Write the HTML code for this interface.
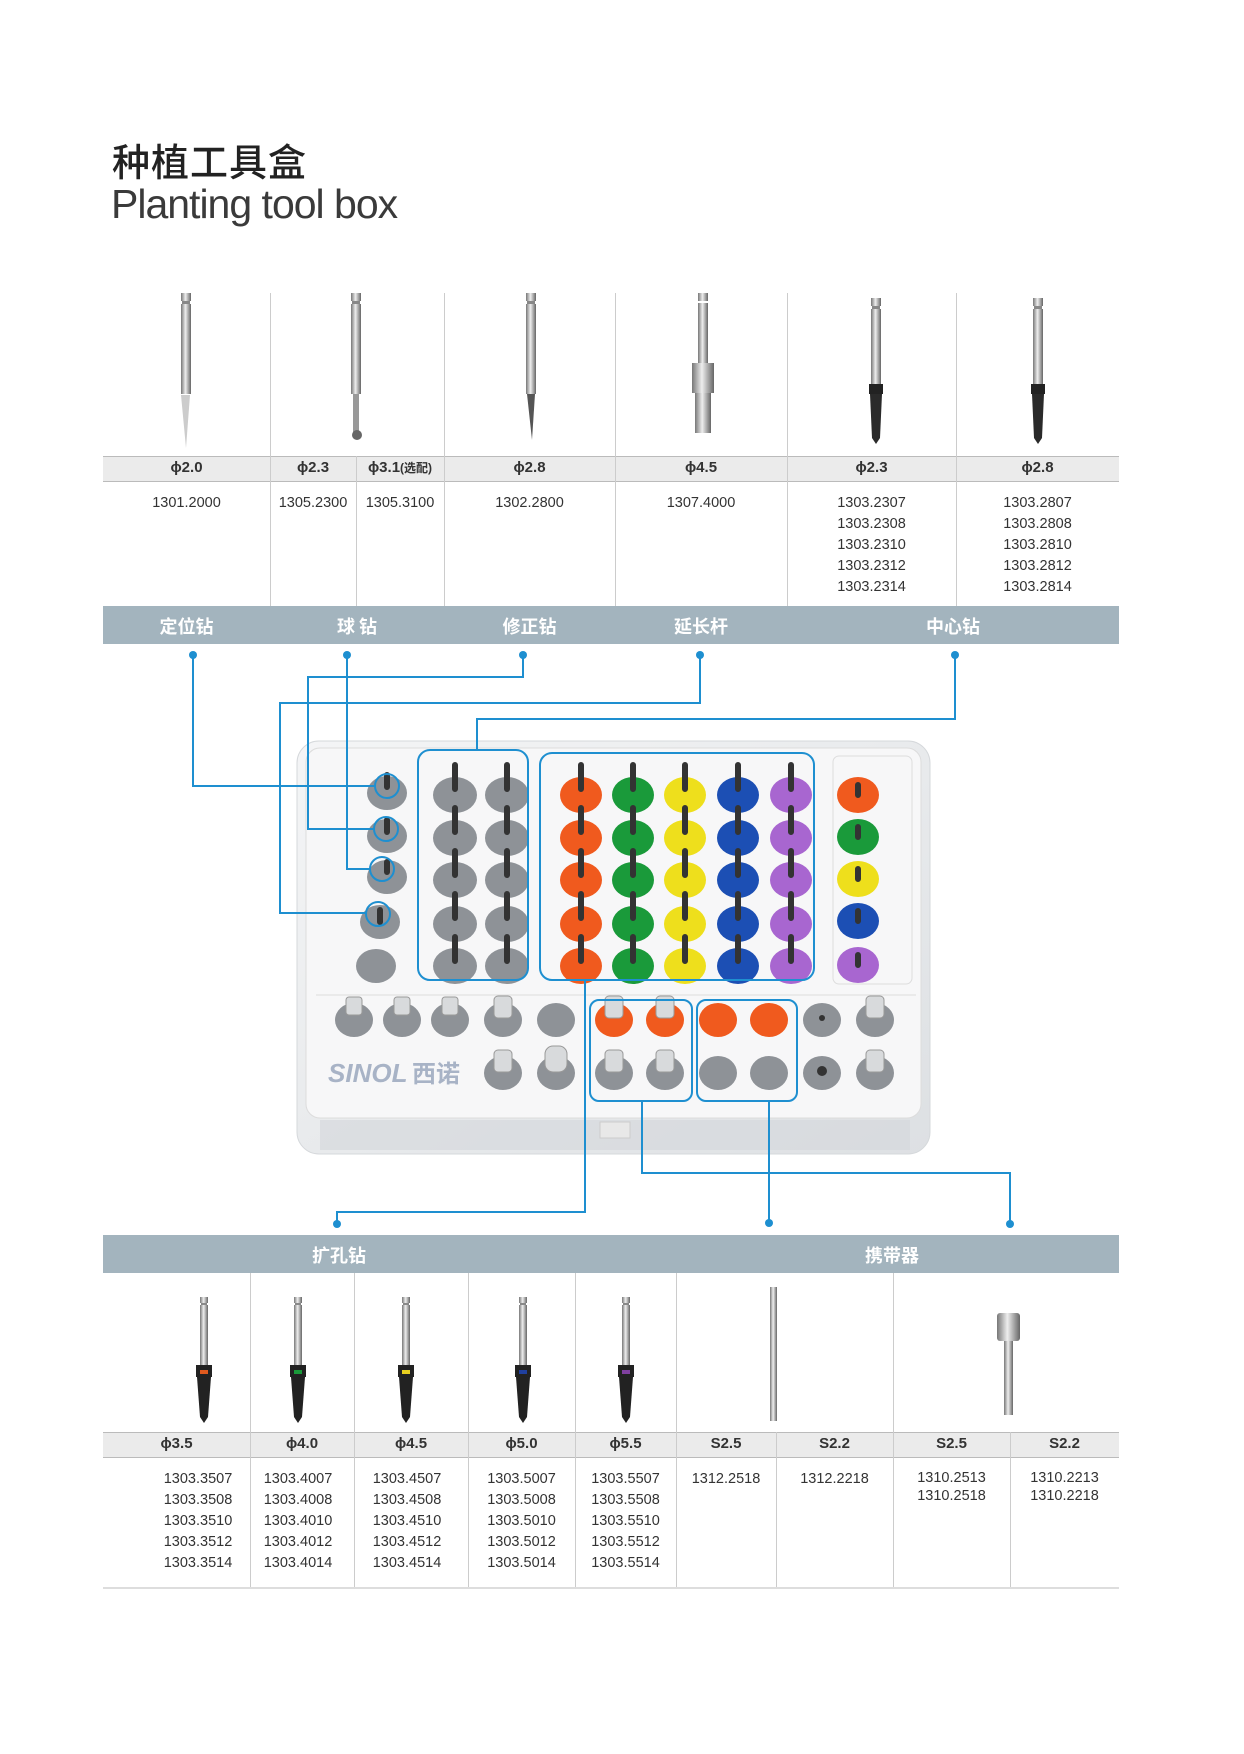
<!DOCTYPE html>
<html><head><meta charset="utf-8">
<style>
body{margin:0;background:#fff;}
#p{position:relative;width:1244px;height:1754px;overflow:hidden;background:#fff;font-family:"Liberation Sans","Noto Sans CJK SC",sans-serif;color:#333;}
.a{position:absolute;}
.t1{left:112px;top:132px;font-size:38px;color:#222;font-family:"Noto Sans CJK SC","WenQuanYi Zen Hei",sans-serif;font-weight:500;letter-spacing:1px;}
.t2{left:111px;top:181px;font-size:41px;color:#3a3a3a;font-weight:300;letter-spacing:-1px;}
.hd{background:#ebebeb;border-top:1px solid #bbb;border-bottom:1px solid #bbb;}
.bar{background:#a3b4be;}
.lab{color:#fff;font-weight:bold;font-size:18px;font-family:"Noto Sans CJK SC",sans-serif;text-align:center;}
.h{font-weight:bold;font-size:15px;color:#333;text-align:center;}
.c{font-size:14.5px;color:#333;line-height:21px;text-align:center;}
.vl{position:absolute;width:1px;background:#ccc;}
</style></head><body><div id="p">
<div class="a t1">种植工具盒</div>
<div class="a t2">Planting tool box</div>

<div class="a hd" style="left:103px;top:456px;width:1016px;height:24px"></div>
<div class="vl" style="left:270px;top:293px;height:313px"></div>
<div class="vl" style="left:356px;top:456px;height:150px"></div>
<div class="vl" style="left:444px;top:293px;height:313px"></div>
<div class="vl" style="left:615px;top:293px;height:313px"></div>
<div class="vl" style="left:787px;top:293px;height:313px"></div>
<div class="vl" style="left:956px;top:293px;height:313px"></div>
<div class="a h" style="left:103px;top:459px;width:167px">ϕ2.0</div>
<div class="a h" style="left:270px;top:459px;width:86px">ϕ2.3</div>
<div class="a h" style="left:356px;top:459px;width:88px">ϕ3.1<span style="font-size:12px">(选配)</span></div>
<div class="a h" style="left:444px;top:459px;width:171px">ϕ2.8</div>
<div class="a h" style="left:615px;top:459px;width:172px">ϕ4.5</div>
<div class="a h" style="left:787px;top:459px;width:169px">ϕ2.3</div>
<div class="a h" style="left:956px;top:459px;width:163px">ϕ2.8</div>
<div class="a c" style="left:103px;top:493px;width:167px">1301.2000</div>
<div class="a c" style="left:270px;top:493px;width:86px">1305.2300</div>
<div class="a c" style="left:356px;top:493px;width:88px">1305.3100</div>
<div class="a c" style="left:444px;top:493px;width:171px">1302.2800</div>
<div class="a c" style="left:615px;top:493px;width:172px">1307.4000</div>
<div class="a c" style="left:787px;top:493px;width:169px">1303.2307<br>1303.2308<br>1303.2310<br>1303.2312<br>1303.2314</div>
<div class="a c" style="left:956px;top:493px;width:163px">1303.2807<br>1303.2808<br>1303.2810<br>1303.2812<br>1303.2814</div>
<div class="a bar" style="left:103px;top:606px;width:1016px;height:38px"></div>
<div class="a lab" style="left:103px;top:613px;width:167px">定位钻</div>
<div class="a lab" style="left:270px;top:613px;width:174px">球 钻</div>
<div class="a lab" style="left:444px;top:613px;width:171px">修正钻</div>
<div class="a lab" style="left:615px;top:613px;width:172px">延长杆</div>
<div class="a lab" style="left:787px;top:613px;width:332px">中心钻</div>

<div class="a bar" style="left:103px;top:1235px;width:1016px;height:38px"></div>
<div class="a lab" style="left:103px;top:1242px;width:472px">扩孔钻</div>
<div class="a lab" style="left:575px;top:1242px;width:544px;padding-left:90px;box-sizing:border-box">携带器</div>
<div class="a hd" style="left:103px;top:1432px;width:1016px;height:24px"></div>
<div class="vl" style="left:250px;top:1273px;height:315px"></div>
<div class="vl" style="left:354px;top:1273px;height:315px"></div>
<div class="vl" style="left:468px;top:1273px;height:315px"></div>
<div class="vl" style="left:575px;top:1273px;height:315px"></div>
<div class="vl" style="left:676px;top:1273px;height:315px"></div>
<div class="vl" style="left:776px;top:1432px;height:156px"></div>
<div class="vl" style="left:893px;top:1273px;height:315px"></div>
<div class="vl" style="left:1010px;top:1432px;height:156px"></div>
<div class="a" style="left:103px;top:1587px;width:1016px;height:2px;background:#ddd"></div>
<div class="a h" style="left:103px;top:1435px;width:147px">ϕ3.5</div>
<div class="a h" style="left:250px;top:1435px;width:104px">ϕ4.0</div>
<div class="a h" style="left:354px;top:1435px;width:114px">ϕ4.5</div>
<div class="a h" style="left:468px;top:1435px;width:107px">ϕ5.0</div>
<div class="a h" style="left:575px;top:1435px;width:101px">ϕ5.5</div>
<div class="a h" style="left:676px;top:1435px;width:100px">S2.5</div>
<div class="a h" style="left:776px;top:1435px;width:117px">S2.2</div>
<div class="a h" style="left:893px;top:1435px;width:117px">S2.5</div>
<div class="a h" style="left:1010px;top:1435px;width:109px">S2.2</div>
<div class="a c" style="left:103px;top:1469px;width:190px">1303.3507<br>1303.3508<br>1303.3510<br>1303.3512<br>1303.3514</div>
<div class="a c" style="left:250px;top:1469px;width:96px">1303.4007<br>1303.4008<br>1303.4010<br>1303.4012<br>1303.4014</div>
<div class="a c" style="left:354px;top:1469px;width:106px">1303.4507<br>1303.4508<br>1303.4510<br>1303.4512<br>1303.4514</div>
<div class="a c" style="left:468px;top:1469px;width:107px">1303.5007<br>1303.5008<br>1303.5010<br>1303.5012<br>1303.5014</div>
<div class="a c" style="left:575px;top:1469px;width:101px">1303.5507<br>1303.5508<br>1303.5510<br>1303.5512<br>1303.5514</div>
<div class="a c" style="left:676px;top:1469px;width:100px">1312.2518</div>
<div class="a c" style="left:776px;top:1469px;width:117px">1312.2218</div>
<div class="a c" style="left:893px;top:1469px;width:117px;line-height:18px">1310.2513<br>1310.2518</div>
<div class="a c" style="left:1010px;top:1469px;width:109px;line-height:18px">1310.2213<br>1310.2218</div>

<svg class="a" style="left:0;top:0" width="1244" height="1754">
<defs>
<linearGradient id="sh" x1="0" x2="1"><stop offset="0" stop-color="#777"/><stop offset=".45" stop-color="#eee"/><stop offset="1" stop-color="#666"/></linearGradient>
<linearGradient id="tb" y1="0" y2="1"><stop offset="0" stop-color="#f4f5f6"/><stop offset="1" stop-color="#dde0e3"/></linearGradient>
<g id="sd"><rect x="-5" y="0" width="10" height="8" fill="url(#sh)"/><rect x="-4" y="8" width="8" height="3" fill="#888"/><rect x="-5" y="11" width="10" height="90" fill="url(#sh)"/></g>
<g id="cd"><use href="#sd"/><rect x="-7" y="86" width="14" height="10" fill="#222"/><path d="M-6 96 L6 96 L4 140 L0 146 L-4 140Z" fill="#2a2a2a"/></g>
<g id="rd"><rect x="-4" y="0" width="8" height="6" fill="url(#sh)"/><rect x="-3" y="6" width="6" height="2" fill="#888"/><rect x="-4" y="8" width="8" height="60" fill="url(#sh)"/><rect x="-8" y="68" width="16" height="12" fill="#222"/><path d="M-7 80 L7 80 L4 120 L0 126 L-4 120Z" fill="#222"/></g>
</defs>
<use href="#sd" x="186" y="293"/><path d="M181 395 L190 395 L186 448Z" fill="#ccc"/>
<use href="#sd" x="356" y="293"/><rect x="353" y="394" width="6" height="40" fill="#999"/><circle cx="357" cy="435" r="5" fill="#666"/>
<use href="#sd" x="531" y="293"/><path d="M527 394 L535 394 L532 440Z" fill="#555"/>
<g transform="translate(703,293)"><rect x="-5" y="0" width="10" height="8" fill="url(#sh)"/><rect x="-5" y="10" width="10" height="60" fill="url(#sh)"/><rect x="-11" y="70" width="22" height="30" fill="url(#sh)"/><rect x="-8" y="100" width="16" height="40" fill="url(#sh)"/></g>
<use href="#cd" x="876" y="298"/><use href="#cd" x="1038" y="298"/>
<use href="#rd" x="204" y="1297"/><rect x="200" y="1370" width="8" height="4" fill="#e05a1e"/>
<use href="#rd" x="298" y="1297"/><rect x="294" y="1370" width="8" height="4" fill="#1a9a3a"/>
<use href="#rd" x="406" y="1297"/><rect x="402" y="1370" width="8" height="4" fill="#e8d020"/>
<use href="#rd" x="523" y="1297"/><rect x="519" y="1370" width="8" height="4" fill="#2040a0"/>
<use href="#rd" x="626" y="1297"/><rect x="622" y="1370" width="8" height="4" fill="#8040a0"/>
<rect x="770" y="1287" width="7" height="134" fill="url(#sh)"/>
<rect x="997" y="1313" width="23" height="28" rx="3" fill="url(#sh)"/><rect x="1004" y="1341" width="9" height="74" fill="url(#sh)"/>

<rect x="297" y="741" width="633" height="413" rx="22" fill="url(#tb)" stroke="#d5d8db"/>
<rect x="306" y="748" width="615" height="370" rx="14" fill="#f7f7f8" stroke="#dcdcdc"/>
<rect x="320" y="1120" width="590" height="30" fill="#d6d9dd" opacity=".7"/>
<rect x="600" y="1122" width="30" height="16" fill="#e8e8e8" stroke="#ccc"/>
<line x1="316" y1="995" x2="916" y2="995" stroke="#ddd"/>
<rect x="833" y="756" width="79" height="228" rx="6" fill="none" stroke="#ddd"/>
<g fill="#8e9297">
<ellipse cx="387" cy="793" rx="20" ry="17"/><ellipse cx="387" cy="836" rx="20" ry="17"/><ellipse cx="387" cy="877" rx="20" ry="17"/><ellipse cx="380" cy="922" rx="20" ry="17"/><ellipse cx="376" cy="966" rx="20" ry="17"/>
<ellipse cx="455" cy="795" rx="22" ry="18"/><ellipse cx="507" cy="795" rx="22" ry="18"/>
<ellipse cx="455" cy="838" rx="22" ry="18"/><ellipse cx="507" cy="838" rx="22" ry="18"/>
<ellipse cx="455" cy="880" rx="22" ry="18"/><ellipse cx="507" cy="880" rx="22" ry="18"/>
<ellipse cx="455" cy="924" rx="22" ry="18"/><ellipse cx="507" cy="924" rx="22" ry="18"/>
<ellipse cx="455" cy="966" rx="22" ry="18"/><ellipse cx="507" cy="966" rx="22" ry="18"/>
</g>
<g fill="#f05a1e"><ellipse cx="581" cy="795" rx="21" ry="18"/><ellipse cx="581" cy="838" rx="21" ry="18"/><ellipse cx="581" cy="880" rx="21" ry="18"/><ellipse cx="581" cy="924" rx="21" ry="18"/><ellipse cx="581" cy="966" rx="21" ry="18"/><ellipse cx="858" cy="795" rx="21" ry="18"/></g>
<g fill="#1a9a3a"><ellipse cx="633" cy="795" rx="21" ry="18"/><ellipse cx="633" cy="838" rx="21" ry="18"/><ellipse cx="633" cy="880" rx="21" ry="18"/><ellipse cx="633" cy="924" rx="21" ry="18"/><ellipse cx="633" cy="966" rx="21" ry="18"/><ellipse cx="858" cy="837" rx="21" ry="18"/></g>
<g fill="#eedf1c"><ellipse cx="685" cy="795" rx="21" ry="18"/><ellipse cx="685" cy="838" rx="21" ry="18"/><ellipse cx="685" cy="880" rx="21" ry="18"/><ellipse cx="685" cy="924" rx="21" ry="18"/><ellipse cx="685" cy="966" rx="21" ry="18"/><ellipse cx="858" cy="879" rx="21" ry="18"/></g>
<g fill="#1c4fb4"><ellipse cx="738" cy="795" rx="21" ry="18"/><ellipse cx="738" cy="838" rx="21" ry="18"/><ellipse cx="738" cy="880" rx="21" ry="18"/><ellipse cx="738" cy="924" rx="21" ry="18"/><ellipse cx="738" cy="966" rx="21" ry="18"/><ellipse cx="858" cy="921" rx="21" ry="18"/></g>
<g fill="#a866d0"><ellipse cx="791" cy="795" rx="21" ry="18"/><ellipse cx="791" cy="838" rx="21" ry="18"/><ellipse cx="791" cy="880" rx="21" ry="18"/><ellipse cx="791" cy="924" rx="21" ry="18"/><ellipse cx="791" cy="966" rx="21" ry="18"/><ellipse cx="858" cy="965" rx="21" ry="18"/></g>
<g stroke="#333" stroke-width="6" stroke-linecap="round">
<path d="M455 765v24M507 765v24M455 808v24M507 808v24M455 851v24M507 851v24M455 894v24M507 894v24M455 937v24M507 937v24"/>
<path d="M581 765v24M633 765v24M685 765v24M738 765v24M791 765v24M581 808v24M633 808v24M685 808v24M738 808v24M791 808v24M581 851v24M633 851v24M685 851v24M738 851v24M791 851v24M581 894v24M633 894v24M685 894v24M738 894v24M791 894v24M581 937v24M633 937v24M685 937v24M738 937v24M791 937v24"/>
<path d="M858 785v10M858 827v10M858 869v10M858 911v10M858 955v10M387 775v12M387 820v12M387 862v10M380 910v12"/>
</g>
<g fill="#8e9297">
<ellipse cx="354" cy="1020" rx="19" ry="17"/><ellipse cx="402" cy="1020" rx="19" ry="17"/><ellipse cx="450" cy="1020" rx="19" ry="17"/><ellipse cx="503" cy="1020" rx="19" ry="17"/><ellipse cx="556" cy="1020" rx="19" ry="17"/><ellipse cx="822" cy="1020" rx="19" ry="17"/><ellipse cx="875" cy="1020" rx="19" ry="17"/>
<ellipse cx="503" cy="1073" rx="19" ry="17"/><ellipse cx="556" cy="1073" rx="19" ry="17"/><ellipse cx="614" cy="1073" rx="19" ry="17"/><ellipse cx="665" cy="1073" rx="19" ry="17"/><ellipse cx="718" cy="1073" rx="19" ry="17"/><ellipse cx="769" cy="1073" rx="19" ry="17"/><ellipse cx="822" cy="1073" rx="19" ry="17"/><ellipse cx="875" cy="1073" rx="19" ry="17"/>
</g>
<g fill="#f05a1e"><ellipse cx="614" cy="1020" rx="19" ry="17"/><ellipse cx="665" cy="1020" rx="19" ry="17"/><ellipse cx="718" cy="1020" rx="19" ry="17"/><ellipse cx="769" cy="1020" rx="19" ry="17"/></g>
<g fill="#d8dadc" stroke="#999"><rect x="346" y="997" width="16" height="18" rx="3"/><rect x="394" y="997" width="16" height="18" rx="3"/><rect x="442" y="997" width="16" height="18" rx="3"/><rect x="494" y="996" width="18" height="22" rx="4"/><rect x="605" y="996" width="18" height="22" rx="4"/><rect x="656" y="996" width="18" height="22" rx="4"/><rect x="866" y="996" width="18" height="22" rx="4"/><rect x="494" y="1050" width="18" height="22" rx="4"/><rect x="545" y="1046" width="22" height="26" rx="8"/><rect x="605" y="1050" width="18" height="22" rx="4"/><rect x="656" y="1050" width="18" height="22" rx="4"/><rect x="866" y="1050" width="18" height="22" rx="4"/></g>
<circle cx="822" cy="1018" r="3" fill="#333"/><circle cx="822" cy="1071" r="5" fill="#333"/>
<text x="328" y="1082" font-family="Liberation Sans,sans-serif" font-weight="bold" font-style="italic" font-size="26" fill="#a8b3c6">SINOL</text>
<text x="412" y="1082" font-family="Noto Sans CJK SC,sans-serif" font-weight="bold" font-size="24" fill="#a8b3c6">西诺</text>

<g fill="none" stroke="#1e8fd0" stroke-width="2">
<rect x="418" y="750" width="110" height="230" rx="12"/>
<rect x="540" y="753" width="274" height="227" rx="12"/>
<rect x="590" y="1000" width="102" height="101" rx="9"/>
<rect x="697" y="1000" width="100" height="101" rx="9"/>
<circle cx="387" cy="786" r="12"/><circle cx="386" cy="829" r="12"/><circle cx="382" cy="869" r="12"/><circle cx="378" cy="914" r="12"/>
<polyline points="193,655 193,786 375,786"/>
<polyline points="347,655 347,869 370,869"/>
<polyline points="523,655 523,677 308,677 308,829 374,829"/>
<polyline points="700,655 700,703 280,703 280,913 366,913"/>
<polyline points="955,655 955,719 477,719 477,750"/>
<polyline points="642,1101 642,1173 1010,1173 1010,1224"/>
<polyline points="769,1101 769,1223"/>
<polyline points="585,980 585,1212 337,1212 337,1224"/>
</g>
<g fill="#1e8fd0"><circle cx="193" cy="655" r="4"/><circle cx="347" cy="655" r="4"/><circle cx="523" cy="655" r="4"/><circle cx="700" cy="655" r="4"/><circle cx="955" cy="655" r="4"/><circle cx="337" cy="1224" r="4"/><circle cx="769" cy="1223" r="4"/><circle cx="1010" cy="1224" r="4"/></g>
</svg>
</div></body></html>
